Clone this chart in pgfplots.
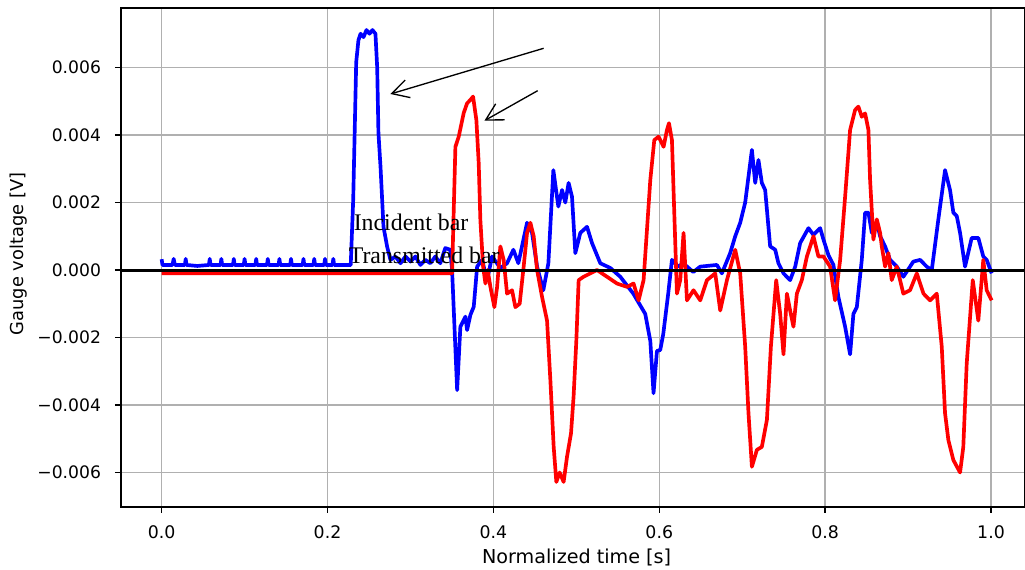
\documentclass[border=0pt]{standalone}
\usepackage{fontspec}
\setmainfont{DejaVu Sans}
\newfontfamily\timesfont{Liberation Serif}
\usepackage{pgfplots}
\pgfplotsset{compat=1.18}
\usetikzlibrary{arrows.meta}

\definecolor{gridgray}{HTML}{B0B0B0}

\begin{document}
\begin{tikzpicture}
\begin{axis}[
    at={(0,0)}, anchor=south west,
    scale only axis,
    width=542.4pt, height=299.4pt,
    xmin=-0.049, xmax=1.041,
    ymin=-0.007022, ymax=0.007763,
    scaled x ticks=false, scaled y ticks=false,
    xtick={0,0.2,0.4,0.6,0.8,1.0},
    xticklabels={0.0,0.2,0.4,0.6,0.8,1.0},
    ytick={-0.006,-0.004,-0.002,0,0.002,0.004,0.006},
    yticklabels={−0.006,−0.004,−0.002,0.000,0.002,0.004,0.006},
    tick align=outside,
    major tick length=3.6pt,
    xtick pos=bottom, ytick pos=left,
    every tick/.style={black, line width=0.8pt},
    axis line style={line width=0.8pt},
    grid=major,
    major grid style={gridgray, line width=0.9pt},
    x tick label style={font=\fontsize{10.4}{12}\selectfont, yshift=-3.8pt},
    y tick label style={font=\fontsize{10.3}{12}\selectfont, xshift=-4.9pt},
    xlabel={Normalized time [s]},
    ylabel={Gauge voltage [V]},
    every axis x label/.style={at={(axis description cs:0.504,-0.102)}, anchor=center,
        font=\fontsize{11.5}{14}\selectfont},
    every axis y label/.style={at={(axis description cs:-0.113,0.507)}, rotate=90, anchor=center,
        font=\fontsize{10.7}{13}\selectfont},
]

% incident bar
\addplot[blue, line width=2.2pt, line join=round] coordinates {
(0.000,0.00032)(0.001,0.00015)(0.013,0.00015)(0.0145,0.00033)(0.016,0.00015)
(0.028,0.00015)(0.029,0.00033)(0.030,0.00015)(0.043,0.00012)(0.057,0.00015)
(0.058,0.00033)(0.059,0.00015)(0.071,0.00015)(0.072,0.00033)(0.073,0.00015)
(0.086,0.00015)(0.087,0.00033)(0.088,0.00015)(0.099,0.00015)(0.100,0.00033)
(0.101,0.00015)(0.113,0.00015)(0.114,0.00033)(0.115,0.00015)(0.127,0.00015)
(0.128,0.00033)(0.129,0.00015)(0.141,0.00015)(0.142,0.00033)(0.143,0.00015)
(0.155,0.00015)(0.156,0.00033)(0.157,0.00015)(0.170,0.00015)(0.171,0.00033)
(0.172,0.00015)(0.183,0.00015)(0.184,0.00033)(0.185,0.00015)(0.196,0.00015)
(0.197,0.00033)(0.198,0.00015)(0.206,0.00015)(0.207,0.00033)(0.208,0.00015)
(0.228,0.00015)(0.231,0.0021)(0.2346,0.00616)(0.2373,0.00681)(0.2398,0.0070)
(0.2434,0.0069)(0.247,0.00711)(0.2506,0.0070)(0.2542,0.00711)(0.2578,0.0070)
(0.2599,0.0060)(0.2614,0.00406)(0.2639,0.00306)(0.2675,0.00128)(0.2719,0.00069)
(0.2759,0.0003)(0.2819,0.0004)(0.288,0.0002)(0.294,0.0004)(0.300,0.00025)
(0.306,0.0004)(0.312,0.00015)(0.318,0.0003)(0.324,0.0002)(0.330,0.0004)
(0.336,0.0002)(0.342,0.00065)(0.348,0.0006)
(0.3502,0.0)(0.3563,-0.00356)(0.3602,-0.00168)(0.3663,-0.00138)(0.3683,-0.00178)
(0.3723,-0.00133)(0.3763,-0.00109)(0.3804,0.0001)(0.3864,0.0003)(0.3924,-0.0003)
(0.3984,0.0004)(0.4084,0.00006)(0.4165,0.0002)(0.4241,0.0006)(0.4301,0.0002)
(0.4406,0.0014)(0.4466,0.0011)(0.4527,0.0001)(0.4602,-0.0006)(0.4663,0.0002)
(0.4723,0.00296)(0.4783,0.00188)(0.4828,0.00237)(0.4867,0.0020)(0.4907,0.00258)
(0.4948,0.00217)(0.4988,0.0005)(0.5048,0.0011)(0.5129,0.00128)(0.5189,0.0008)
(0.5289,0.0002)(0.5410,0.00006)(0.5530,-0.0002)(0.5687,-0.0007)(0.5831,-0.0013)
(0.5892,-0.0021)(0.5931,-0.00365)(0.5972,-0.0024)(0.6012,-0.00237)(0.6048,-0.0019)
(0.6108,-0.0007)(0.6153,0.0003)(0.6229,0.0001)(0.6289,0.0002)(0.6410,-0.00006)
(0.6494,0.0001)(0.6695,0.00015)(0.6755,-0.0001)(0.6855,0.0005)(0.6916,0.0010)
(0.6976,0.0014)(0.7036,0.0020)(0.7117,0.00356)(0.7157,0.00258)(0.7196,0.00326)
(0.7237,0.00258)(0.7277,0.00237)(0.7337,0.0007)(0.7398,0.0006)(0.7437,0.0002)
(0.7498,-0.0001)(0.7578,-0.0003)(0.7639,0.0001)(0.7699,0.0008)(0.7799,0.00124)
(0.7859,0.00104)(0.7940,0.00124)(0.7980,0.0009)(0.8040,0.00044)(0.8100,0.00015)
(0.8160,-0.0008)(0.8241,-0.00168)(0.8301,-0.0025)(0.8341,-0.0013)(0.8382,-0.0011)
(0.8442,0.0003)(0.8482,0.0017)(0.8522,0.0017)(0.8563,0.0011)(0.8623,0.0014)
(0.8663,0.0010)(0.8723,0.0007)(0.8783,0.0003)(0.8864,0.0001)(0.8943,-0.0002)
(0.9064,0.00025)(0.9145,0.0003)(0.9225,0.0001)(0.9286,0.0)(0.9365,0.0015)
(0.9446,0.00296)(0.9506,0.00237)(0.9546,0.0017)(0.9587,0.0016)(0.9627,0.0011)
(0.9687,0.0001)(0.9767,0.00095)(0.9847,0.00095)(0.9907,0.0004)(0.9948,0.0003)
(1.0008,-0.0001)
};

% transmitted bar
\addplot[red, line width=2.2pt, line join=round] coordinates {
(0.0,-0.0001)(0.3502,-0.0001)(0.3542,0.00365)(0.3582,0.00395)(0.3642,0.00465)
(0.3683,0.00494)(0.3723,0.00504)(0.3755,0.00514)(0.3795,0.00444)(0.3823,0.00317)
(0.3843,0.00148)(0.3876,0.0001)(0.3904,-0.0004)(0.3931,0.0)(0.3964,-0.0005)
(0.4012,-0.0011)(0.4045,-0.0005)(0.4084,0.0007)(0.4124,0.0003)(0.4165,-0.0007)
(0.4225,-0.0006)(0.4265,-0.0011)(0.4317,-0.0010)(0.4365,0.0001)(0.4406,0.0011)
(0.4446,0.0014)(0.4486,0.0010)(0.4527,0.0)(0.4587,-0.0008)(0.4647,-0.0015)
(0.4687,-0.00326)(0.4727,-0.00524)(0.4759,-0.00628)(0.4799,-0.0060)(0.4847,-0.00628)
(0.4888,-0.00553)(0.4936,-0.00484)(0.4967,-0.00375)(0.5000,-0.0021)(0.5028,-0.0003)
(0.5088,-0.0002)(0.5169,-0.0001)(0.5249,0.0)(0.5370,-0.0002)(0.5490,-0.0004)
(0.5611,-0.0005)(0.5690,-0.0004)(0.5751,-0.0009)(0.5811,-0.0003)(0.5852,0.0012)
(0.5892,0.00267)(0.5940,0.00385)(0.5992,0.00395)(0.6052,0.00365)(0.6093,0.00415)
(0.6117,0.00435)(0.6153,0.00385)(0.6181,0.0017)(0.6213,-0.0007)(0.6253,-0.0003)
(0.6293,0.0011)(0.6334,-0.0009)(0.6413,-0.0006)(0.6494,-0.0009)(0.6575,-0.0003)
(0.6675,-0.0001)(0.6735,-0.0012)(0.6816,-0.0003)(0.6916,0.0006)(0.6976,-0.0001)
(0.7036,-0.00227)(0.7076,-0.00425)(0.7117,-0.00583)(0.7177,-0.00533)(0.7237,-0.00524)
(0.7298,-0.00444)(0.7346,-0.00227)(0.7410,-0.0003)(0.7458,-0.0013)(0.7498,-0.0025)
(0.7539,-0.0007)(0.7578,-0.0012)(0.7618,-0.00168)(0.7659,-0.0007)(0.7719,-0.0003)
(0.7780,0.0004)(0.7859,0.0010)(0.7919,0.0004)(0.7980,0.0004)(0.8060,0.0001)
(0.8120,-0.0009)(0.8181,0.0003)(0.8241,0.00217)(0.8301,0.00415)(0.8361,0.00474)
(0.8401,0.00484)(0.8442,0.00454)(0.8482,0.00464)(0.8522,0.00415)(0.8542,0.00267)
(0.8582,0.0009)(0.8623,0.0015)(0.8663,0.0011)(0.8683,0.0007)(0.8723,0.0001)
(0.8763,0.0005)(0.8803,-0.0003)(0.8864,0.0001)(0.8943,-0.0007)(0.9024,-0.0006)
(0.9105,-0.0001)(0.9186,-0.0007)(0.9265,-0.0009)(0.9346,-0.0007)(0.9406,-0.00227)
(0.9446,-0.00425)(0.9486,-0.00504)(0.9546,-0.00563)(0.9627,-0.0060)(0.9666,-0.00524)
(0.9707,-0.00277)(0.9780,-0.0003)(0.9847,-0.0015)(0.9907,0.0003)(0.9948,-0.0006)
(1.0008,-0.0009)
};

% zero line
\addplot[black, line width=1.8pt] coordinates {(-0.1,0)(1.1,0)};

\node[anchor=base west, inner sep=0pt, font=\timesfont\fontsize{14.3}{16}\selectfont]
    at (axis cs:0.2313,0.001185) {Incident bar};
\node[anchor=base west, inner sep=0pt, font=\timesfont\fontsize{14.3}{16}\selectfont]
    at (axis cs:0.2253,0.000207) {Transmitted bar};

\draw[black, line width=0.8pt, -{Straight Barb[length=10pt, width=11pt]}]
    (axis cs:0.4606,0.006569) -- (axis cs:0.2759,0.005215);
\draw[black, line width=0.8pt, -{Straight Barb[length=10pt, width=11pt]}]
    (axis cs:0.4534,0.005313) -- (axis cs:0.3892,0.004424);
\end{axis}
\pgfresetboundingbox
\path (-72.6pt,-37.8pt) rectangle (542.4pt,304.2pt);
\end{tikzpicture}
\end{document}
